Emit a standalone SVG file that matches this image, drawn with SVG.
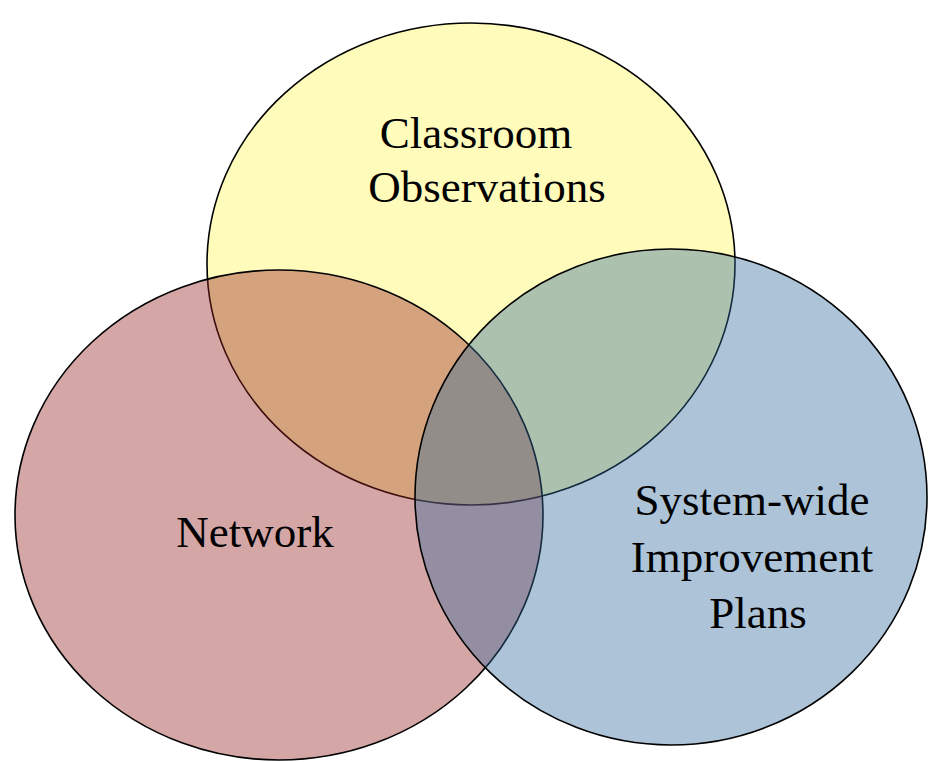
<svg xmlns="http://www.w3.org/2000/svg" width="928" height="762" viewBox="0 0 928 762">
<style>
.c{stroke:#000;stroke-width:1.6;fill-opacity:0.4}
.t{font-family:"Liberation Serif","Times New Roman",serif;font-size:45px;fill:#000;text-anchor:middle}
</style>
<rect width="928" height="762" fill="#fff"/>
<g id="node-classroom">
<ellipse class="c" cx="471" cy="264" rx="264" ry="241" fill="#FFF555"/>
</g>
<g id="node-network">
<ellipse class="c" cx="279" cy="515" rx="264" ry="245" fill="#942121"/>
</g>
<g id="node-system">
<ellipse class="c" cx="671" cy="497" rx="256" ry="248" fill="#326C9E"/>
</g>
<g id="labels">
<text class="t" x="476" y="148">Classroom</text>
<text class="t" x="487" y="202">Observations</text>
<text class="t" x="255" y="547">Network</text>
<text class="t" x="752" y="515">System-wide</text>
<text class="t" x="752" y="572">Improvement</text>
<text class="t" x="758" y="628">Plans</text>
</g>
<g id="connectors"></g>
</svg>
